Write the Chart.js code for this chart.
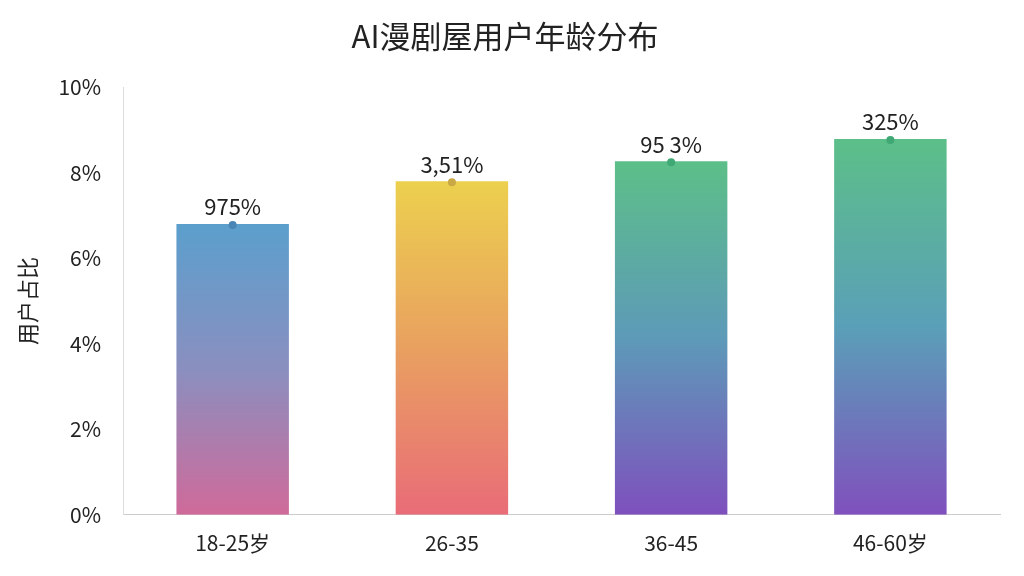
<!DOCTYPE html>
<html><head><meta charset="utf-8">
<script src="https://cdn.jsdelivr.net/npm/chart.js@4"></script>
<style>html,body{margin:0;background:#fff}#w{width:1024px;height:576px}</style>
</head><body><div id="w"><canvas id="c"></canvas></div>
<script>
const categories=["18-25岁","26-35","36-45","46-60岁"];
const values=[6.8,7.8,8.27,8.79];
const valueLabels=["975%","3,51%","95 3%","325%"];
const tickLabels=["0%","2%","4%","6%","8%","10%"];
const topColors=["#5b9fcd","#ecd04e","#5cbf88","#5cbf88"];
const midColors=["#8a8fbf","#e9a060","#5d9ab8","#5a9fb8"];
const botColors=["#cf6a9a","#e96c78","#7e50bd","#8050bd"];
const F="'Noto Sans CJK SC','Noto Sans',sans-serif";
const labelPlugin={id:'lbl',afterDatasetsDraw(ch){const ctx=ch.ctx;const m=ch.getDatasetMeta(0);ctx.save();
m.data.forEach((b,i)=>{ctx.fillStyle=['#4a86b5','#c9a845','#3fa874','#3fa874'][i];ctx.beginPath();ctx.arc(b.x,b.y+1,4,0,Math.PI*2);ctx.fill();
ctx.fillStyle='#222';ctx.font="22px "+F;ctx.textAlign='center';ctx.textBaseline='bottom';ctx.fillText(valueLabels[i],b.x,b.y-6);});ctx.restore();}};
new Chart(document.getElementById('c'),{type:'bar',
data:{labels:categories,datasets:[{data:values,barPercentage:0.9,categoryPercentage:0.57,
backgroundColor(c){const a=c.chart.chartArea;if(!a)return '#888';const i=c.dataIndex;const g=c.chart.ctx.createLinearGradient(0,a.bottom-values[i]/10*(a.bottom-a.top),0,a.bottom);g.addColorStop(0,topColors[i]);g.addColorStop(0.5,midColors[i]);g.addColorStop(1,botColors[i]);return g;}}]},
plugins:[labelPlugin],
options:{responsive:true,maintainAspectRatio:false,animation:false,
layout:{padding:{left:10,right:24,top:0,bottom:12}},
plugins:{legend:{display:false},tooltip:{enabled:false},
title:{display:true,text:"AI漫剧屋用户年龄分布",color:'#222',font:{size:31,family:F,weight:'normal'},padding:{top:18,bottom:32}}},
scales:{x:{grid:{display:false},border:{color:'#ccc'},ticks:{color:'#222',font:{size:21,family:F},padding:8}},
y:{min:0,max:10,grid:{display:false},border:{color:'#ddd'},
ticks:{stepSize:2,color:'#222',font:{size:21,family:F},padding:14,callback:(v)=>tickLabels[v/2]},
title:{display:true,text:"用户占比",color:'#222',font:{size:22,family:F}}}}}});
</script></body></html>
